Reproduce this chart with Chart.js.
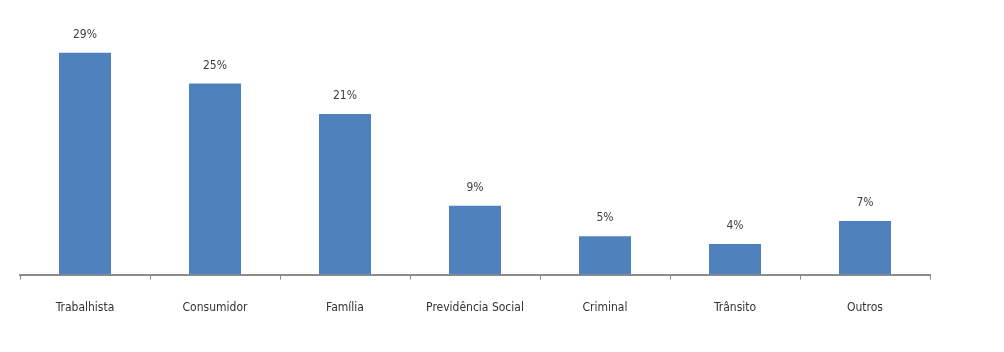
<!DOCTYPE html>
<html>
<head>
<meta charset="utf-8">
<script src="https://cdn.jsdelivr.net/npm/chart.js@4"></script>
<style>
  html, body { margin: 0; padding: 0; background: #fff; }
  #wrap { width: 1004px; height: 352px; }
</style>
</head>
<body>
<div id="wrap"><canvas id="chart-areas"></canvas></div>
<script>
// categorias e valores (%)
const categories = ["Trabalhista", "Consumidor", "Família", "Previdência Social", "Criminal", "Trânsito", "Outros"];
const shares = [29, 25, 21, 9, 5, 4, 7];

const FONT = "'DejaVu Sans Condensed', 'DejaVu Sans', sans-serif";

// rótulos em cima das barras
const barLabels = {
  id: "barLabels",
  afterDatasetsDraw(chart) {
    const ctx = chart.ctx;
    const meta = chart.getDatasetMeta(0);
    ctx.save();
    ctx.font = "12px " + FONT;
    ctx.fillStyle = "#404040";
    ctx.textAlign = "center";
    ctx.textBaseline = "middle";
    meta.data.forEach((bar, i) => {
      ctx.fillText(shares[i] + "%", bar.x, bar.y - 18);
    });
    ctx.restore();
  }
};

const ctx = document.getElementById("chart-areas").getContext("2d");
new Chart(ctx, {
  type: "bar",
  data: {
    labels: categories,
    datasets: [{
      data: shares,
      backgroundColor: "#4F81BD",
      barPercentage: 0.4,
      categoryPercentage: 1.0
    }]
  },
  options: {
    responsive: true,
    maintainAspectRatio: false,
    animation: false,
    layout: { padding: { left: 20, right: 74, top: 7, bottom: 16 } },
    plugins: {
      legend: { display: false },
      tooltip: { enabled: false }
    },
    scales: {
      x: {
        grid: {
          offset: true,
          drawOnChartArea: false,
          drawTicks: true,
          tickLength: 5,
          color: "#8c8c8c",
          lineWidth: 1
        },
        border: { display: true, color: "#8c8c8c", width: 2 },
        ticks: {
          padding: 21,
          color: "#333",
          font: { family: FONT, size: 12 },
          maxRotation: 0
        }
      },
      y: {
        display: false,
        min: 0,
        max: 35
      }
    }
  },
  plugins: [barLabels]
});
</script>
</body>
</html>
